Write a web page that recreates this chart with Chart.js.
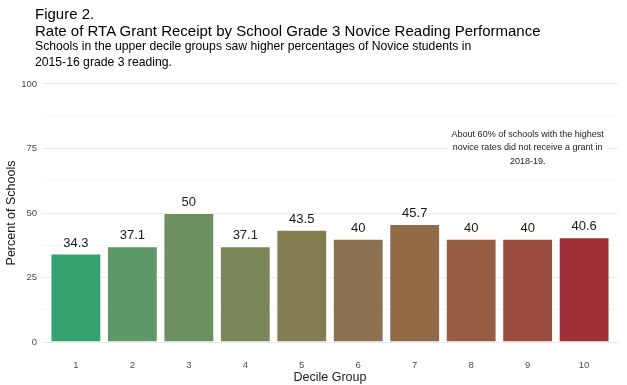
<!DOCTYPE html>
<html>
<head>
<meta charset="utf-8">
<script src="https://cdn.jsdelivr.net/npm/chart.js@4"></script>
<style>
  html, body { margin: 0; padding: 0; background: #fff; }
  body { width: 627px; height: 385px; position: relative; overflow: hidden; font-family: "Liberation Sans", Arial, sans-serif; color: #000; }
  #wrap { position: absolute; left: 0; top: 0; width: 627px; height: 385px; }
  .head { position: absolute; left: 35px; white-space: nowrap; }
  #fig { top: 5px; font-size: 15px; line-height: 17px; }
  #sub { top: 39px; font-size: 12.2px; line-height: 15.5px; }
</style>
</head>
<body>
<div id="wrap"><canvas id="chart" width="627" height="385"></canvas></div>
<div class="head" id="fig">Figure 2.<br>Rate of RTA Grant Receipt by School Grade 3 Novice Reading Performance</div>
<div class="head" id="sub">Schools in the upper decile groups saw higher percentages of Novice students in<br>2015-16 grade 3 reading.</div>
<script>
// decile groups and share of schools receiving a grant
const deciles = [1, 2, 3, 4, 5, 6, 7, 8, 9, 10];
const percents = [34.3, 37.1, 50, 37.1, 43.5, 40, 45.7, 40, 40, 40.6];
const barColors = ['#35a070', '#5f9868', '#6d8f60', '#7a875a', '#857d52', '#8a7250', '#916a48', '#975d43', '#9b4e3e', '#a02e37'];
const yTicks = [0, 12.5, 25, 37.5, 50, 62.5, 75, 87.5, 100];
const note = ['About 60% of schools with the highest', 'novice rates did not receive a grant in', '2018-19.'];

const FONT = '"Liberation Sans", Arial, sans-serif';

// value labels above each bar
const barLabels = {
  id: 'barLabels',
  afterDatasetsDraw(chart) {
    const ctx = chart.ctx;
    const meta = chart.getDatasetMeta(0);
    ctx.save();
    ctx.font = '13px ' + FONT;
    ctx.fillStyle = '#1a1a1a';
    ctx.textAlign = 'center';
    ctx.textBaseline = 'bottom';
    meta.data.forEach((bar, i) => {
      ctx.fillText(String(percents[i]), bar.x, bar.y - 4);
    });
    ctx.restore();
  }
};

// boxed note in the upper right of the plot
const noteLabel = {
  id: 'noteLabel',
  afterDatasetsDraw(chart) {
    const ctx = chart.ctx;
    const x = chart.scales.x.getPixelForValue(9);
    const y = chart.scales.y.getPixelForValue(75.2);
    const lh = 13.5;
    ctx.save();
    ctx.font = '9px ' + FONT;
    const w = Math.max(...note.map(t => ctx.measureText(t).width)) + 8;
    const h = lh * note.length + 4;
    ctx.fillStyle = '#fff';
    ctx.fillRect(x - w / 2, y - h / 2, w, h);
    ctx.fillStyle = '#1a1a1a';
    ctx.textAlign = 'center';
    ctx.textBaseline = 'middle';
    note.forEach((t, i) => {
      ctx.fillText(t, x, y + (i - (note.length - 1) / 2) * lh);
    });
    ctx.restore();
  }
};

new Chart(document.getElementById('chart'), {
  type: 'bar',
  data: {
    datasets: [{
      data: deciles.map((d, i) => ({ x: d, y: percents[i] })),
      backgroundColor: barColors,
      borderColor: 'rgba(255,255,255,0.45)',
      borderWidth: 1,
      barPercentage: 0.9,
      categoryPercentage: 1
    }]
  },
  options: {
    responsive: false,
    animation: false,
    layout: { padding: { top: 71, right: 9, left: 0, bottom: 0 } },
    plugins: {
      legend: { display: false },
      tooltip: { enabled: false }
    },
    scales: {
      x: {
        type: 'linear',
        offset: false,
        min: 0.4,
        max: 10.6,
        afterBuildTicks: axis => { axis.ticks = deciles.map(v => ({ value: v })); },
        afterFit: axis => { axis.height = 30; },
        grid: { display: false, drawTicks: false, offset: false },
        border: { display: false },
        ticks: {
          padding: 5,
          color: '#4d4d4d',
          font: { family: FONT, size: 9.5 },
          callback: v => String(v)
        },
        title: {
          display: true,
          text: 'Decile Group',
          color: '#1a1a1a',
          font: { family: FONT, size: 12.5 },
          padding: { top: 0, bottom: 0 }
        }
      },
      y: {
        min: -5,
        max: 105,
        afterBuildTicks: axis => { axis.ticks = yTicks.map(v => ({ value: v })); },
        afterFit: axis => { axis.width = 42; },
        grid: {
          drawTicks: false,
          color: ctx => (ctx.tick && ctx.tick.value % 25 === 0) ? '#ebebeb' : '#f4f4f4',
          lineWidth: ctx => (ctx.tick && ctx.tick.value % 25 === 0) ? 1 : 0.8
        },
        border: { display: false },
        ticks: {
          padding: 5,
          color: '#4d4d4d',
          font: { family: FONT, size: 9.5 },
          callback: v => (v % 25 === 0 ? String(v) : '')
        },
        title: {
          display: true,
          text: 'Percent of Schools',
          color: '#1a1a1a',
          font: { family: FONT, size: 12.5 },
          padding: { top: 4, bottom: 0 }
        }
      }
    }
  },
  plugins: [barLabels, noteLabel]
});
</script>
</body>
</html>
